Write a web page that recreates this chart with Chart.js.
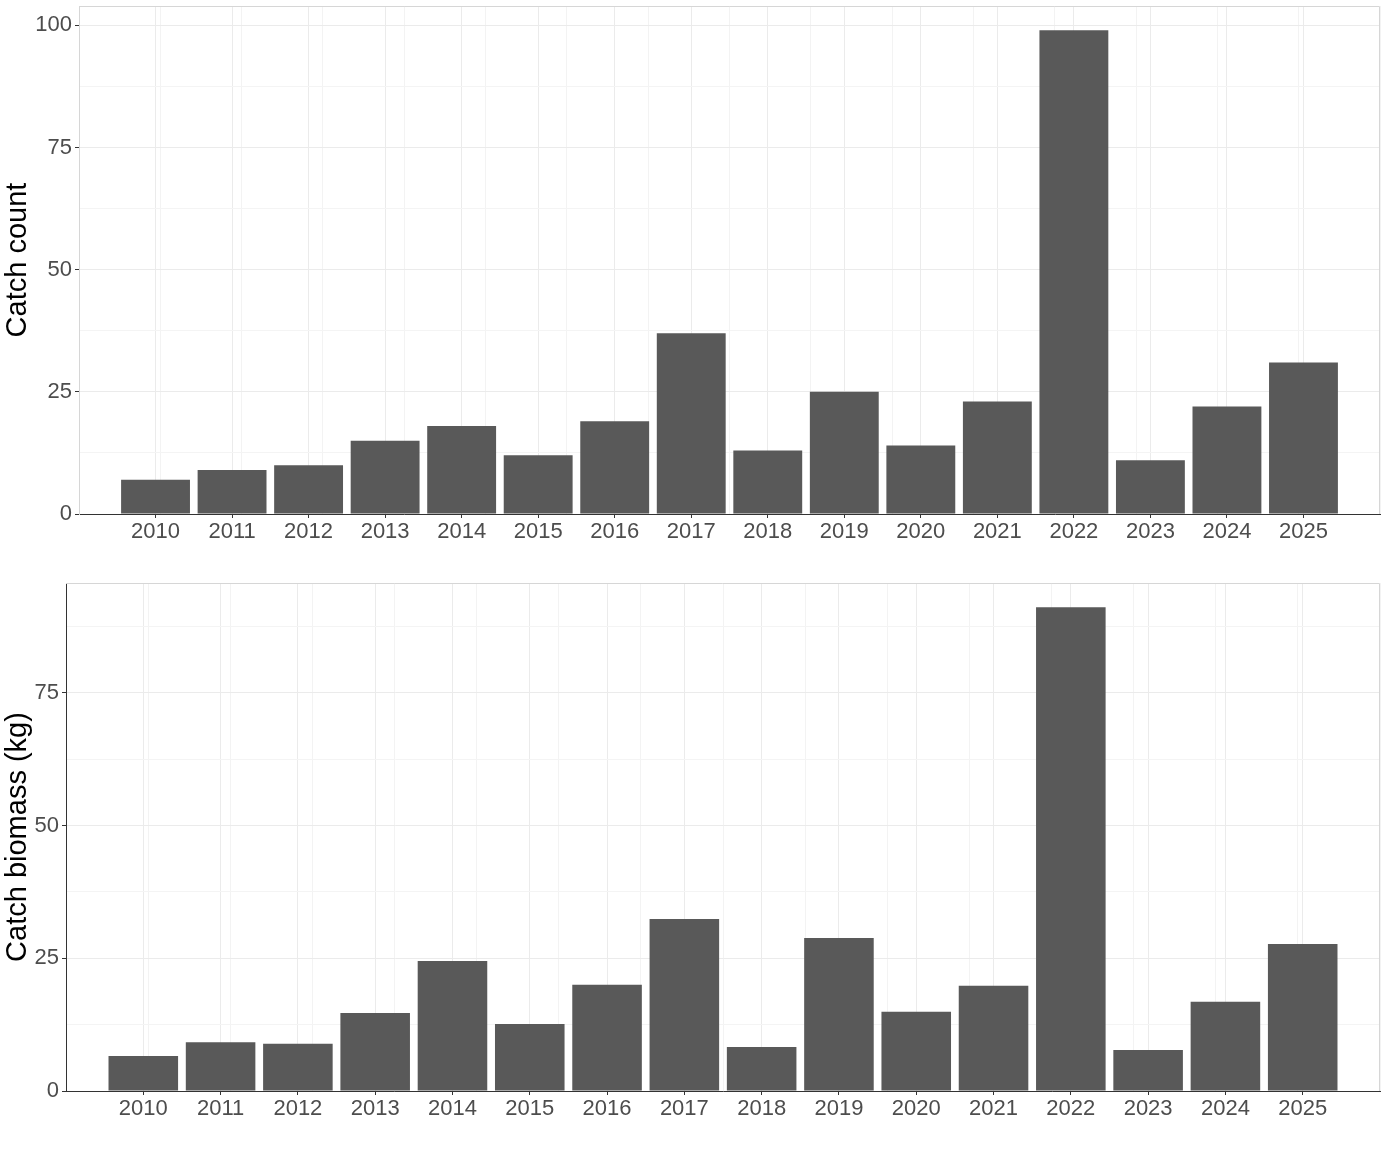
<!DOCTYPE html>
<html>
<head>
<meta charset="utf-8">
<script src="https://cdn.jsdelivr.net/npm/chart.js@4.4.1/dist/chart.umd.min.js"></script>
<style>
  html, body { margin: 0; padding: 0; background: #fff; }
  #wrap1 { position: absolute; left: 0; top: 0; width: 1386px; height: 560px; }
  #wrap2 { position: absolute; left: 0; top: 560px; width: 1386px; height: 594px; }
</style>
</head>
<body>
<div id="wrap1"><canvas id="canvas-1"></canvas></div>
<div id="wrap2"><canvas id="canvas-2"></canvas></div>
<script>
// data
const years = [2010, 2011, 2012, 2013, 2014, 2015, 2016, 2017, 2018, 2019, 2020, 2021, 2022, 2023, 2024, 2025];
const catchCount = [7, 9, 10, 15, 18, 12, 19, 37, 13, 25, 14, 23, 99, 11, 22, 31];
const catchBiomass = [6.6, 9.2, 8.9, 14.7, 24.5, 12.6, 20.0, 32.4, 8.3, 28.8, 14.9, 19.8, 91.1, 7.7, 16.8, 27.7];
const yTickLabels = [0, 25, 50, 75, 100];

const FONT = "'Liberation Sans', Arial, sans-serif";
const BAR = "#595959";
const AXIS = "#333333";

// tick value from a scriptable context (may be missing)
const tv = (c) => (c && c.tick ? c.tick.value : NaN);

// grey panel border on top / right (ggplot-ish)
const panelBorder = {
  id: "panelBorder",
  afterDraw(chart) {
    const a = chart.chartArea;
    const ctx = chart.ctx;
    ctx.save();
    ctx.strokeStyle = "#d6d6d6";
    ctx.lineWidth = 1;
    ctx.beginPath();
    ctx.moveTo(a.left, a.top + 0.5);
    ctx.lineTo(a.right - 0.5, a.top + 0.5);
    ctx.lineTo(a.right - 0.5, a.bottom);
    ctx.stroke();
    ctx.restore();
  },
};

function makeChart(id, values, title, yAxisWidth, xAxisHeight, padTop, yBorder) {
  const top = Math.max(...values) * 1.05;
  return new Chart(document.getElementById(id), {
    type: "bar",
    data: {
      datasets: [
        {
          xAxisID: "x",
          yAxisID: "y",
          data: years.map((y, i) => ({ x: y, y: values[i] })),
          backgroundColor: BAR,
          borderWidth: 0,
          barPercentage: 0.9,
          categoryPercentage: 1,
        },
      ],
    },
    options: {
      responsive: true,
      maintainAspectRatio: false,
      animation: false,
      events: [],
      layout: { padding: { top: padTop, right: 6, bottom: 0, left: 0 } },
      plugins: { legend: { display: false }, tooltip: { enabled: false } },
      scales: {
        x: {
          type: "linear",
          min: 2009,
          max: 2026,
          offset: false,
          afterFit: (s) => { s.height = xAxisHeight; s.paddingLeft = 0; s.paddingRight = 0; },
          border: { color: AXIS, width: 1 },
          grid: {
            offset: false,
            color: "#ebebeb",
            tickLength: 4,
            tickColor: (c) => (years.includes(tv(c)) ? AXIS : "rgba(0,0,0,0)"),
          },
          ticks: {
            stepSize: 1,
            autoSkip: false,
            maxRotation: 0,
            padding: 1,
            color: "#4d4d4d",
            font: { family: FONT, size: 22 },
            callback: (v) => (years.includes(v) ? String(v) : ""),
          },
        },
        // half-year grid lines only
        xMinor: {
          type: "linear",
          axis: "x",
          position: "bottom",
          min: 2009.5,
          max: 2025.5,
          offset: false,
          afterFit: (s) => { s.height = 0; s.paddingLeft = 0; s.paddingRight = 0; },
          border: { display: false },
          grid: { color: "#f3f3f3", drawTicks: false, offset: false },
          ticks: { display: false, stepSize: 1 },
        },
        y: {
          min: 0,
          max: top,
          afterFit: (s) => { s.width = yAxisWidth; s.paddingTop = 0; s.paddingBottom = 0; },
          border: { color: yBorder, width: 1 },
          grid: {
            color: (c) => (tv(c) % 25 === 0 ? "#ebebeb" : "#f4f4f4"),
            tickLength: 4,
            tickColor: (c) => (yTickLabels.includes(tv(c)) ? AXIS : "rgba(0,0,0,0)"),
          },
          ticks: {
            stepSize: 12.5,
            includeBounds: false,
            padding: 3,
            color: "#4d4d4d",
            font: { family: FONT, size: 22 },
            callback: (v) => (yTickLabels.includes(v) ? String(v) : ""),
          },
          title: {
            display: true,
            text: title,
            color: "#000",
            padding: { top: 3, bottom: 0 },
            font: { family: FONT, size: 29, lineHeight: 1.0 },
          },
        },
      },
    },
    plugins: [panelBorder],
  });
}

const countChart = makeChart("canvas-1", catchCount, "Catch count", 79, 46, 6, "#d6d6d6");
const biomassChart = makeChart("canvas-2", catchBiomass, "Catch biomass (kg)", 66, 63, 23, AXIS);
</script>
</body>
</html>
